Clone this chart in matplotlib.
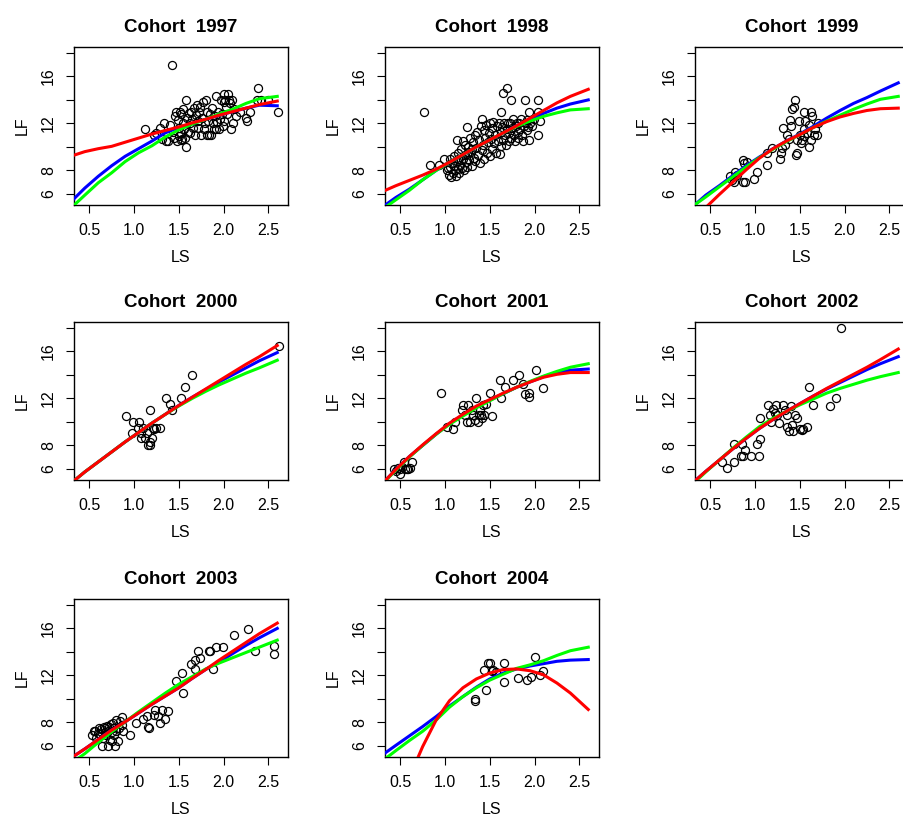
import matplotlib
matplotlib.use("Agg")
import matplotlib.pyplot as plt

plt.rcParams["font.family"] = ["Liberation Sans", "DejaVu Sans"]

cohorts = [1997, 1998, 1999, 2000, 2001, 2002, 2003, 2004]

fit_ls = [0.33, 0.45, 0.6, 0.75, 0.9, 1.05, 1.2, 1.35, 1.5, 1.65, 1.8, 1.95, 2.1, 2.25, 2.4, 2.6]

# observed points (LS, LF) per cohort
ls_1997 = [1.12, 1.22, 1.25, 1.29, 1.31, 1.33, 1.36, 1.38, 1.40, 1.42, 1.44, 1.45, 1.46, 1.47, 1.48,
           1.49, 1.50, 1.50, 1.51, 1.52, 1.52, 1.53, 1.54, 1.55, 1.55, 1.56, 1.57, 1.58, 1.58, 1.59,
           1.60, 1.61, 1.62, 1.63, 1.64, 1.65, 1.66, 1.67, 1.68, 1.69, 1.70, 1.71, 1.72, 1.73, 1.74,
           1.75, 1.76, 1.77, 1.78, 1.79, 1.80, 1.81, 1.82, 1.83, 1.84, 1.85, 1.86, 1.87, 1.88, 1.89,
           1.90, 1.91, 1.92, 1.93, 1.94, 1.95, 1.96, 1.97, 1.98, 1.99, 2.00, 2.00, 2.01, 2.02, 2.03,
           2.04, 2.05, 2.06, 2.07, 2.08, 2.09, 2.10, 2.12, 2.14, 2.18, 2.25, 2.26, 2.30, 2.37, 2.39,
           2.42, 2.50, 2.61]
lf_1997 = [11.5, 11.0, 11.2, 11.6, 10.7, 12.0, 10.5, 10.5, 11.9, 17.0, 11.3, 10.8, 12.6, 13.0, 10.5,
           12.3, 11.6, 10.9, 13.0, 10.6, 12.8, 11.2, 10.7, 12.0, 13.2, 11.5, 10.8, 14.0, 10.0, 12.5,
           11.3, 12.9, 12.0, 11.2, 13.0, 12.4, 11.6, 13.3, 11.0, 12.7, 13.6, 11.6, 12.2, 13.0, 13.4,
           11.0, 12.5, 13.8, 11.5, 12.0, 14.0, 11.0, 13.0, 12.2, 11.0, 12.8, 11.0, 13.3, 12.0, 11.5,
           12.6, 14.3, 11.5, 12.1, 13.0, 11.5, 12.4, 14.0, 12.8, 11.8, 14.5, 13.8, 12.2, 14.0, 13.4,
           12.8, 14.5, 14.0, 13.7, 11.5, 14.0, 12.0, 13.2, 12.6, 13.0, 12.5, 12.2, 13.0, 14.0, 15.0,
           14.0, 14.0, 13.0]

ls_1998 = [0.77, 0.83, 0.93, 0.99, 1.02, 1.04, 1.05, 1.06, 1.07, 1.08, 1.09, 1.10, 1.11, 1.12, 1.13,
           1.13, 1.14, 1.15, 1.16, 1.17, 1.18, 1.19, 1.20, 1.20, 1.21, 1.22, 1.23, 1.24, 1.24, 1.25,
           1.26, 1.27, 1.28, 1.29, 1.30, 1.31, 1.32, 1.33, 1.34, 1.35, 1.36, 1.37, 1.38, 1.39, 1.40,
           1.41, 1.41, 1.42, 1.43, 1.44, 1.45, 1.46, 1.47, 1.48, 1.49, 1.50, 1.50, 1.51, 1.52, 1.53,
           1.54, 1.55, 1.56, 1.57, 1.58, 1.59, 1.60, 1.61, 1.62, 1.63, 1.63, 1.64, 1.65, 1.65, 1.66,
           1.67, 1.68, 1.69, 1.69, 1.70, 1.71, 1.72, 1.73, 1.74, 1.74, 1.75, 1.76, 1.77, 1.78, 1.79,
           1.80, 1.81, 1.82, 1.83, 1.84, 1.85, 1.86, 1.87, 1.88, 1.89, 1.90, 1.91, 1.92, 1.93, 1.94,
           1.94, 1.95, 1.97, 1.99, 2.04, 2.04, 2.04, 2.06, 1.03, 1.10, 1.15, 1.18, 1.22, 1.26, 1.30]
lf_1998 = [13.0, 8.5, 8.5, 9.0, 8.0, 7.6, 8.3, 9.0, 7.4, 8.6, 7.8, 9.2, 8.0, 7.5, 10.6,
           8.8, 8.1, 9.5, 7.8, 8.5, 9.8, 8.2, 10.5, 9.0, 8.0, 10.2, 8.7, 11.7, 9.4, 8.3,
           10.0, 8.9, 10.8, 9.6, 8.4, 10.4, 9.1, 11.0, 8.8, 9.9, 11.3, 9.3, 10.6, 8.6, 11.8,
           12.4, 9.7, 10.2, 11.4, 9.0, 10.8, 11.9, 9.5, 10.4, 11.2, 12.0, 9.2, 10.7, 11.6, 9.8,
           12.1, 10.3, 11.0, 9.5, 11.8, 10.5, 12.0, 9.4, 11.3, 13.0, 10.1, 11.7, 14.6, 10.6, 12.0,
           11.0, 10.2, 15.0, 11.5, 12.0, 10.5, 11.2, 12.0, 14.0, 10.8, 11.6, 12.4, 11.0, 10.5, 11.8,
           12.0, 11.3, 10.8, 12.0, 11.5, 12.4, 11.0, 10.5, 11.8, 14.0, 12.0, 11.4, 12.3, 11.7, 10.6,
           13.0, 12.0, 11.8, 12.4, 14.0, 13.0, 11.0, 12.2, 8.2, 8.4, 9.0, 8.9, 9.3, 9.6, 9.8]

ls_1999 = [0.72, 0.74, 0.76, 0.78, 0.80, 0.87, 0.88, 0.91, 0.87, 0.89, 0.99, 1.02, 1.13, 1.13, 1.19,
           1.28, 1.29, 1.30, 1.31, 1.33, 1.36, 1.38, 1.39, 1.40, 1.41, 1.43, 1.45, 1.46, 1.47, 1.47,
           1.49, 1.50, 1.51, 1.52, 1.55, 1.55, 1.55, 1.56, 1.58, 1.60, 1.60, 1.62, 1.63, 1.64, 1.66,
           1.67, 1.69, 1.70]
lf_1999 = [7.5, 7.2, 7.0, 7.9, 7.6, 8.9, 8.6, 8.75, 7.05, 7.0, 7.3, 7.9, 8.5, 9.5, 9.9,
           9.0, 9.5, 9.9, 11.6, 10.2, 11.0, 10.7, 12.3, 11.8, 13.2, 13.4, 14.0, 9.3, 10.6, 9.5,
           12.2, 11.0, 10.3, 10.6, 10.9, 13.0, 11.5, 12.2, 11.2, 10.0, 11.9, 10.6, 13.0, 12.6, 11.0,
           11.5, 11.0, 12.0]

ls_2000 = [0.91, 0.98, 0.99, 1.04, 1.06, 1.08, 1.08, 1.10, 1.12, 1.14, 1.16, 1.18, 1.18, 1.18, 1.20,
           1.21, 1.22, 1.25, 1.29, 1.36, 1.40, 1.42, 1.52, 1.57, 1.65, 2.62]
lf_2000 = [10.5, 9.1, 10.0, 9.5, 10.0, 9.1, 8.6, 9.5, 8.6, 9.1, 8.0, 8.3, 8.0, 11.0, 8.6,
           9.5, 9.4, 9.5, 9.5, 12.0, 11.5, 11.0, 12.0, 13.0, 14.0, 16.5]

ls_2001 = [0.43, 0.45, 0.47, 0.50, 0.50, 0.52, 0.54, 0.55, 0.57, 0.59, 0.61, 0.63, 0.95, 1.02, 1.09,
           1.11, 1.19, 1.20, 1.22, 1.24, 1.26, 1.28, 1.30, 1.31, 1.33, 1.35, 1.37, 1.38, 1.39, 1.40,
           1.41, 1.42, 1.44, 1.46, 1.50, 1.53, 1.61, 1.63, 1.67, 1.76, 1.83, 1.87, 1.89, 1.94, 1.94,
           2.02, 2.09]
lf_2001 = [6.0, 5.8, 6.1, 5.6, 6.0, 6.2, 6.6, 6.0, 6.0, 6.0, 6.1, 6.6, 12.45, 9.55, 9.4,
           10.0, 11.0, 11.45, 10.55, 10.0, 11.45, 10.0, 11.0, 10.55, 10.2, 12.0, 10.0, 10.6, 11.0, 10.55,
           10.3, 11.45, 10.55, 11.5, 12.45, 10.5, 13.55, 12.0, 13.0, 13.55, 14.0, 13.25, 12.35, 12.5, 12.1,
           14.4, 12.9]

ls_2002 = [0.63, 0.69, 0.76, 0.76, 0.84, 0.85, 0.87, 0.89, 0.96, 1.02, 1.04, 1.06, 1.05, 1.15, 1.17,
           1.18, 1.20, 1.22, 1.23, 1.25, 1.27, 1.31, 1.33, 1.36, 1.36, 1.38, 1.40, 1.41, 1.42, 1.45,
           1.47, 1.50, 1.52, 1.54, 1.58, 1.60, 1.65, 1.84, 1.90, 1.96]
lf_2002 = [6.6, 6.05, 6.6, 8.1, 7.1, 8.1, 7.1, 7.6, 7.1, 8.1, 7.1, 8.55, 10.3, 11.45, 10.55,
           10.0, 11.1, 10.8, 11.4, 10.6, 9.9, 11.45, 11.0, 10.55, 9.55, 9.25, 11.35, 9.7, 9.25, 10.55,
           10.3, 9.4, 9.3, 9.4, 9.6, 12.95, 11.45, 11.35, 12.0, 17.95]

ls_2003 = [0.53, 0.55, 0.56, 0.58, 0.60, 0.61, 0.62, 0.63, 0.64, 0.65, 0.66, 0.67, 0.68, 0.69, 0.70,
           0.71, 0.71, 0.72, 0.73, 0.74, 0.75, 0.75, 0.76, 0.77, 0.78, 0.79, 0.80, 0.80, 0.82, 0.83,
           0.84, 0.86, 0.87, 0.88, 0.95, 1.02, 1.10, 1.15, 1.16, 1.17, 1.22, 1.23, 1.27, 1.29, 1.31,
           1.35, 1.38, 1.47, 1.54, 1.55, 1.64, 1.68, 1.68, 1.71, 1.74, 1.84, 1.85, 1.88, 1.91, 1.99,
           2.12, 2.27, 2.35, 2.56, 2.56]
lf_2003 = [6.95, 7.3, 7.25, 6.65, 7.1, 7.5, 7.0, 7.4, 6.0, 6.7, 7.6, 7.2, 7.5, 6.9, 7.7,
           6.0, 7.3, 7.6, 6.5, 7.9, 6.45, 7.2, 7.5, 7.95, 6.9, 6.0, 8.2, 7.3, 6.45, 7.5,
           8.1, 8.45, 7.8, 7.3, 6.95, 7.95, 8.25, 8.55, 7.65, 7.5, 8.65, 9.1, 8.55, 7.95, 9.1,
           8.25, 9.0, 11.55, 12.2, 10.5, 12.95, 13.3, 12.55, 14.05, 13.45, 14.05, 14.1, 12.55, 14.4, 14.4,
           15.4, 15.95, 14.05, 14.5, 13.8]

ls_2004 = [1.34, 1.34, 1.46, 1.43, 1.48, 1.50, 1.52, 1.54, 1.57, 1.66, 1.66, 1.82, 1.91, 1.96, 2.00,
           2.06, 2.09]
lf_2004 = [10.0, 9.85, 10.8, 12.5, 13.05, 13.05, 12.4, 12.5, 12.3, 13.05, 11.4, 11.8, 11.6, 11.85, 13.6,
           12.0, 12.35]

# fitted curves at fit_ls
blue_1997 = [5.6, 6.5, 7.5, 8.4, 9.2, 9.85, 10.5, 11.2, 11.65, 12.0, 12.35, 12.7, 13.0, 13.3, 13.55, 13.5]
green_1997 = [5.05, 5.9, 6.95, 7.8, 8.75, 9.5, 10.1, 10.85, 11.45, 11.95, 12.35, 12.8, 13.2, 13.7, 14.1, 14.3]
red_1997 = [9.3, 9.6, 9.85, 10.05, 10.4, 10.75, 11.1, 11.4, 11.7, 12.05, 12.35, 12.7, 13.0, 13.3, 13.6, 13.9]

blue_1998 = [5.05, 5.7, 6.4, 7.2, 8.0, 8.7, 9.35, 10.0, 10.6, 11.2, 11.8, 12.35, 12.85, 13.3, 13.65, 14.0]
green_1998 = [4.85, 5.5, 6.3, 7.2, 8.0, 8.7, 9.35, 10.0, 10.6, 11.2, 11.75, 12.2, 12.6, 12.9, 13.15, 13.25]
red_1998 = [6.3, 6.7, 7.15, 7.6, 8.1, 8.7, 9.35, 10.0, 10.6, 11.2, 11.8, 12.45, 13.1, 13.75, 14.3, 14.9]

blue_1999 = [5.1, 5.9, 6.7, 7.55, 8.4, 9.15, 9.85, 10.5, 11.1, 11.75, 12.45, 13.1, 13.7, 14.2, 14.75, 15.45]
green_1999 = [5.1, 5.75, 6.6, 7.45, 8.3, 9.1, 9.8, 10.45, 11.05, 11.65, 12.2, 12.7, 13.2, 13.65, 14.05, 14.3]
red_1999 = [4.0, 4.85, 5.95, 7.0, 8.05, 9.05, 9.85, 10.5, 11.05, 11.65, 12.15, 12.55, 12.85, 13.1, 13.25, 13.3]

blue_2000 = [5.0, 5.75, 6.6, 7.45, 8.3, 9.1, 9.9, 10.65, 11.4, 12.1, 12.75, 13.4, 14.0, 14.6, 15.2, 15.9]
green_2000 = [5.0, 5.75, 6.6, 7.45, 8.3, 9.1, 9.9, 10.65, 11.35, 12.0, 12.6, 13.15, 13.65, 14.15, 14.6, 15.25]
red_2000 = [5.0, 5.75, 6.6, 7.45, 8.3, 9.1, 9.9, 10.65, 11.4, 12.1, 12.8, 13.5, 14.2, 14.9, 15.55, 16.5]

blue_2001 = [5.0, 5.95, 7.05, 8.0, 8.95, 9.85, 10.6, 11.3, 11.85, 12.4, 12.95, 13.4, 13.85, 14.2, 14.4, 14.5]
green_2001 = [4.95, 5.9, 7.0, 8.0, 8.95, 9.8, 10.5, 11.2, 11.8, 12.4, 12.95, 13.45, 13.9, 14.3, 14.65, 14.95]
red_2001 = [5.0, 5.95, 7.05, 8.05, 9.0, 9.9, 10.65, 11.35, 11.9, 12.45, 12.95, 13.4, 13.8, 14.05, 14.2, 14.2]

blue_2002 = [5.0, 5.8, 6.75, 7.7, 8.6, 9.45, 10.2, 10.9, 11.55, 12.2, 12.8, 13.35, 13.9, 14.45, 14.95, 15.55]
green_2002 = [4.9, 5.75, 6.75, 7.75, 8.7, 9.6, 10.3, 10.9, 11.45, 11.95, 12.45, 12.85, 13.2, 13.55, 13.85, 14.2]
red_2002 = [5.0, 5.8, 6.75, 7.7, 8.6, 9.45, 10.2, 10.9, 11.55, 12.2, 12.85, 13.45, 14.05, 14.65, 15.3, 16.2]

blue_2003 = [5.15, 5.75, 6.55, 7.35, 8.05, 8.8, 9.55, 10.25, 10.95, 11.75, 12.5, 13.15, 13.85, 14.55, 15.2, 16.0]
green_2003 = [4.7, 5.35, 6.3, 7.2, 8.05, 8.9, 9.7, 10.5, 11.25, 11.9, 12.55, 13.05, 13.5, 13.95, 14.4, 15.0]
red_2003 = [5.15, 5.75, 6.55, 7.35, 8.05, 8.8, 9.55, 10.25, 10.95, 11.75, 12.5, 13.3, 14.05, 14.8, 15.55, 16.45]

blue_2004 = [5.4, 6.05, 6.85, 7.65, 8.5, 9.4, 10.2, 11.0, 11.7, 12.2, 12.55, 12.8, 13.0, 13.2, 13.3, 13.35]
green_2004 = [4.9, 5.6, 6.45, 7.25, 8.2, 9.3, 10.2, 10.95, 11.6, 12.1, 12.6, 12.9, 13.25, 13.7, 14.1, 14.4]
red_2004 = [-3.0, 0.3, 3.3, 5.95, 8.2, 9.85, 10.95, 11.7, 12.2, 12.5, 12.55, 12.4, 12.05, 11.35, 10.5, 9.1]

points = [(ls_1997, lf_1997), (ls_1998, lf_1998), (ls_1999, lf_1999), (ls_2000, lf_2000),
          (ls_2001, lf_2001), (ls_2002, lf_2002), (ls_2003, lf_2003), (ls_2004, lf_2004)]
curves = [(blue_1997, green_1997, red_1997), (blue_1998, green_1998, red_1998),
          (blue_1999, green_1999, red_1999), (blue_2000, green_2000, red_2000),
          (blue_2001, green_2001, red_2001), (blue_2002, green_2002, red_2002),
          (blue_2003, green_2003, red_2003), (blue_2004, green_2004, red_2004)]

W, H = 904, 816
fig = plt.figure(figsize=(W / 100, H / 100), dpi=100)

col_left = [74, 385, 695]
row_top = [47, 322, 599]
pw, ph = 214, 158

for i, year in enumerate(cohorts):
    r, c = divmod(i, 3)
    ax = fig.add_axes([col_left[c] / W, 1 - (row_top[r] + ph) / H, pw / W, ph / H])
    xs, ys = points[i]
    ax.plot(xs, ys, "o", mfc="none", mec="black", ms=5.8, mew=0.9, zorder=2)
    for vals, col in zip(curves[i], ["#0000FF", "#00FF00", "#FF0000"]):
        ax.plot(fit_ls, vals, color=col, lw=2.2, zorder=3)

    ax.set_xlim(0.329, 2.72)
    ax.set_ylim(5.06, 18.5)
    ax.set_xticks([0.5, 1.0, 1.5, 2.0, 2.5])
    ax.set_xticklabels(["0.5", "1.0", "1.5", "2.0", "2.5"])
    ax.set_yticks([6, 8, 10, 12, 14, 16, 18])
    ax.set_yticklabels(["6", "8", "", "12", "", "16", ""], rotation=90, va="center")
    ax.tick_params(direction="out", length=6, width=0.8, labelsize=11.5, pad=7)
    for sp in ax.spines.values():
        sp.set_linewidth(1.0)

    ax.set_title("Cohort  %d" % year, fontsize=13.5, fontweight="bold", pad=11)
    ax.set_xlabel("LS", fontsize=11.5)
    ax.xaxis.label.set_va("center")
    ax.xaxis.set_label_coords(0.5, -0.33)
    ax.set_ylabel("LF", fontsize=11.5)
    ax.yaxis.label.set_va("center")
    ax.yaxis.set_label_coords(-0.243, 0.5)

fig.savefig("out.png", dpi=100)
